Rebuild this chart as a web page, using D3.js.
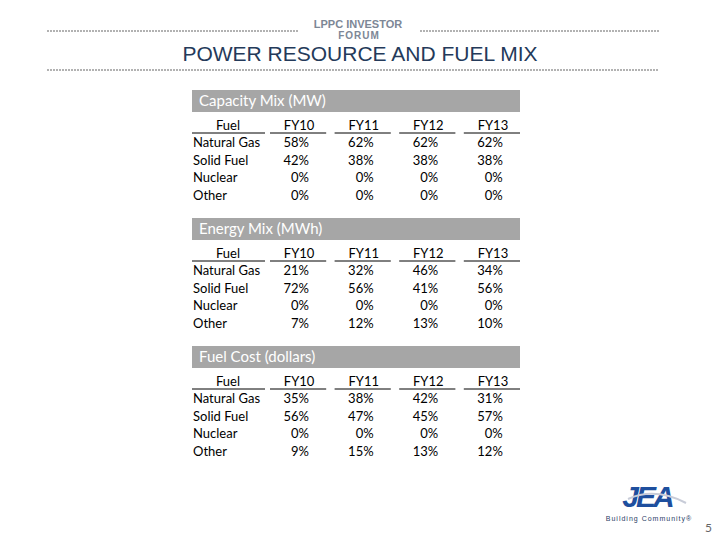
<!DOCTYPE html>
<html>
<head>
<meta charset="utf-8">
<script src="https://cdn.jsdelivr.net/npm/d3@7"></script>
<style>
  body { margin: 0; background: #fff; }
  svg { display: block; }
</style>
</head>
<body>
<div id="chart"></div>
<script>
const fuels = ["Natural Gas", "Solid Fuel", "Nuclear", "Other"];
const years = ["FY10", "FY11", "FY12", "FY13"];

const capacityMix = [
  [58, 62, 62, 62],
  [42, 38, 38, 38],
  [0, 0, 0, 0],
  [0, 0, 0, 0]
];
const energyMix = [
  [21, 32, 46, 34],
  [72, 56, 41, 56],
  [0, 0, 0, 0],
  [7, 12, 13, 10]
];
const fuelCost = [
  [35, 38, 42, 31],
  [56, 47, 45, 57],
  [0, 0, 0, 0],
  [9, 15, 13, 12]
];

const tables = [
  { title: "Capacity Mix (MW)", values: capacityMix },
  { title: "Energy Mix (MWh)", values: energyMix },
  { title: "Fuel Cost (dollars)", values: fuelCost }
];

const width = 720;
const height = 540;
const font = "Lato, 'Open Sans', sans-serif";

const svg = d3.select("#chart")
  .append("svg")
  .attr("width", width)
  .attr("height", height);

// header rules
const rule = (x1, x2, y) => svg.append("line")
  .attr("x1", x1).attr("x2", x2).attr("y1", y).attr("y2", y)
  .attr("stroke", "#999")
  .attr("stroke-width", 1.3)
  .attr("stroke-dasharray", "2,1");

rule(47, 298, 31);
rule(420, 659, 31);
rule(47, 659, 70);

svg.append("text")
  .attr("x", 358).attr("y", 28)
  .attr("text-anchor", "middle")
  .attr("font-family", "'Liberation Sans', Arial, sans-serif")
  .attr("font-size", 11)
  .attr("font-weight", "bold")
  .attr("fill", "#7d8796")
  .text("LPPC INVESTOR");

svg.append("text")
  .attr("x", 359).attr("y", 39)
  .attr("text-anchor", "middle")
  .attr("font-family", "'Liberation Sans', Arial, sans-serif")
  .attr("font-size", 10)
  .attr("font-weight", "bold")
  .attr("letter-spacing", 1)
  .attr("fill", "#7d8796")
  .text("FORUM");

svg.append("text")
  .attr("x", 360).attr("y", 61)
  .attr("text-anchor", "middle")
  .attr("font-family", "'Liberation Sans', Arial, sans-serif")
  .attr("font-size", 21)
  .attr("fill", "#243a5a")
  .text("POWER RESOURCE AND FUEL MIX");

// table layout scales
const tableY = d3.scalePoint()
  .domain(tables.map(t => t.title))
  .range([90, 346]);

const x = d3.scaleBand()
  .domain(years)
  .range([270, 520])
  .paddingInner(0.13);

const rowY = d3.scalePoint()
  .domain(fuels)
  .range([52, 105]);

tables.forEach(t => {
  const g = svg.append("g")
    .attr("transform", `translate(0,${tableY(t.title)})`)
    .attr("font-family", font);

  g.append("rect")
    .attr("x", 192).attr("y", 0)
    .attr("width", 328).attr("height", 22)
    .attr("fill", "#a6a6a6");

  g.append("text")
    .attr("x", 199).attr("y", 16)
    .attr("font-size", 15)
    .attr("fill", "#fff")
    .text(t.title);

  // column headers
  g.append("text")
    .attr("x", 228).attr("y", 40)
    .attr("text-anchor", "middle")
    .attr("font-size", 13)
    .attr("fill", "#000")
    .text("Fuel");

  g.append("line")
    .attr("x1", 192).attr("x2", 265)
    .attr("y1", 43).attr("y2", 43)
    .attr("stroke", "#000");

  g.selectAll(".yr")
    .data(years)
    .join("text")
      .attr("x", d => x(d) + x.bandwidth() / 2 + 1)
      .attr("y", 40)
      .attr("text-anchor", "middle")
      .attr("font-size", 13)
      .text(d => d);

  g.selectAll(".ul")
    .data(years)
    .join("line")
      .attr("x1", d => x(d))
      .attr("x2", d => x(d) + x.bandwidth())
      .attr("y1", 43).attr("y2", 43)
      .attr("stroke", "#000");

  // rows
  g.selectAll(".fuel")
    .data(fuels)
    .join("text")
      .attr("x", 193)
      .attr("y", d => rowY(d) + 5)
      .attr("font-size", 13)
      .text(d => d);

  fuels.forEach((f, i) => {
    g.selectAll(null)
      .data(t.values[i])
      .join("text")
        .attr("x", (d, j) => x(years[j]) + 39)
        .attr("y", rowY(f) + 5)
        .attr("text-anchor", "end")
        .attr("font-size", 13)
        .text(d => d + "%");
  });
});

// logo
svg.append("text")
  .attr("x", 647).attr("y", 507)
  .attr("text-anchor", "middle")
  .attr("font-family", "'Liberation Sans', Arial, sans-serif")
  .attr("font-size", 30)
  .attr("font-weight", "bold")
  .attr("font-style", "italic")
  .attr("letter-spacing", -3)
  .attr("fill", "#1e4f9e")
  .text("JEA");

svg.append("path")
  .attr("d", "M628,499 Q655,487 686,503")
  .attr("fill", "none")
  .attr("stroke", "#c8ccd8")
  .attr("stroke-width", 2);

svg.append("text")
  .attr("x", 649).attr("y", 521)
  .attr("text-anchor", "middle")
  .attr("font-family", "'Liberation Sans', Arial, sans-serif")
  .attr("font-size", 7)
  .attr("letter-spacing", 1)
  .attr("fill", "#2a3c66")
  .text("Building Community\u00AE");

svg.append("text")
  .attr("x", 712).attr("y", 532)
  .attr("text-anchor", "end")
  .attr("font-family", font)
  .attr("font-size", 12)
  .attr("fill", "#666")
  .text("5");
</script>
</body>
</html>
